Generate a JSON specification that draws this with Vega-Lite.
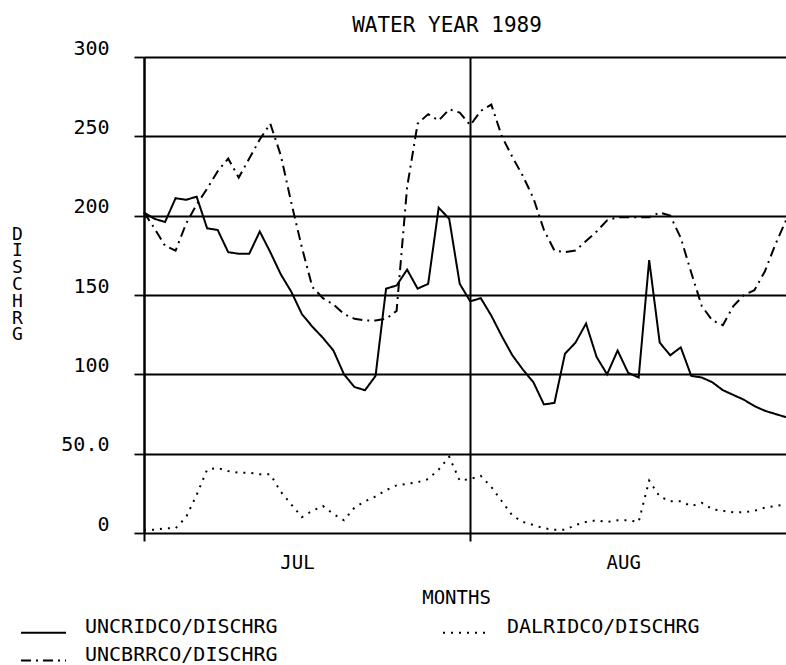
{
  "$schema": "https://vega.github.io/schema/vega-lite/v6.json",
  "autosize": {"type": "none"},
  "padding": {"left": 144, "top": 57, "right": 0, "bottom": 132},
  "width": 642,
  "height": 476,
  "background": "white",
  "title": {
    "text": "WATER YEAR 1989",
    "font": "DejaVu Sans Mono",
    "fontSize": 21,
    "fontWeight": "normal",
    "color": "black",
    "anchor": "middle",
    "dx": -18,
    "baseline": "alphabetic",
    "offset": -15
  },
  "data": {
    "values": [
      {"date": "1989-07-01", "series": "UNCRIDCO/DISCHRG", "value": 202},
      {"date": "1989-07-02", "series": "UNCRIDCO/DISCHRG", "value": 198},
      {"date": "1989-07-03", "series": "UNCRIDCO/DISCHRG", "value": 196},
      {"date": "1989-07-04", "series": "UNCRIDCO/DISCHRG", "value": 211},
      {"date": "1989-07-05", "series": "UNCRIDCO/DISCHRG", "value": 210},
      {"date": "1989-07-06", "series": "UNCRIDCO/DISCHRG", "value": 212},
      {"date": "1989-07-07", "series": "UNCRIDCO/DISCHRG", "value": 192},
      {"date": "1989-07-08", "series": "UNCRIDCO/DISCHRG", "value": 191},
      {"date": "1989-07-09", "series": "UNCRIDCO/DISCHRG", "value": 177},
      {"date": "1989-07-10", "series": "UNCRIDCO/DISCHRG", "value": 176},
      {"date": "1989-07-11", "series": "UNCRIDCO/DISCHRG", "value": 176},
      {"date": "1989-07-12", "series": "UNCRIDCO/DISCHRG", "value": 190},
      {"date": "1989-07-13", "series": "UNCRIDCO/DISCHRG", "value": 177},
      {"date": "1989-07-14", "series": "UNCRIDCO/DISCHRG", "value": 163},
      {"date": "1989-07-15", "series": "UNCRIDCO/DISCHRG", "value": 152},
      {"date": "1989-07-16", "series": "UNCRIDCO/DISCHRG", "value": 138},
      {"date": "1989-07-17", "series": "UNCRIDCO/DISCHRG", "value": 130},
      {"date": "1989-07-18", "series": "UNCRIDCO/DISCHRG", "value": 123},
      {"date": "1989-07-19", "series": "UNCRIDCO/DISCHRG", "value": 115},
      {"date": "1989-07-20", "series": "UNCRIDCO/DISCHRG", "value": 100},
      {"date": "1989-07-21", "series": "UNCRIDCO/DISCHRG", "value": 92},
      {"date": "1989-07-22", "series": "UNCRIDCO/DISCHRG", "value": 90},
      {"date": "1989-07-23", "series": "UNCRIDCO/DISCHRG", "value": 99},
      {"date": "1989-07-24", "series": "UNCRIDCO/DISCHRG", "value": 154},
      {"date": "1989-07-25", "series": "UNCRIDCO/DISCHRG", "value": 156},
      {"date": "1989-07-26", "series": "UNCRIDCO/DISCHRG", "value": 166},
      {"date": "1989-07-27", "series": "UNCRIDCO/DISCHRG", "value": 154},
      {"date": "1989-07-28", "series": "UNCRIDCO/DISCHRG", "value": 157},
      {"date": "1989-07-29", "series": "UNCRIDCO/DISCHRG", "value": 205},
      {"date": "1989-07-30", "series": "UNCRIDCO/DISCHRG", "value": 198},
      {"date": "1989-07-31", "series": "UNCRIDCO/DISCHRG", "value": 157},
      {"date": "1989-08-01", "series": "UNCRIDCO/DISCHRG", "value": 146},
      {"date": "1989-08-02", "series": "UNCRIDCO/DISCHRG", "value": 148},
      {"date": "1989-08-03", "series": "UNCRIDCO/DISCHRG", "value": 137},
      {"date": "1989-08-04", "series": "UNCRIDCO/DISCHRG", "value": 124},
      {"date": "1989-08-05", "series": "UNCRIDCO/DISCHRG", "value": 112},
      {"date": "1989-08-06", "series": "UNCRIDCO/DISCHRG", "value": 103},
      {"date": "1989-08-07", "series": "UNCRIDCO/DISCHRG", "value": 95},
      {"date": "1989-08-08", "series": "UNCRIDCO/DISCHRG", "value": 81},
      {"date": "1989-08-09", "series": "UNCRIDCO/DISCHRG", "value": 82},
      {"date": "1989-08-10", "series": "UNCRIDCO/DISCHRG", "value": 113},
      {"date": "1989-08-11", "series": "UNCRIDCO/DISCHRG", "value": 120},
      {"date": "1989-08-12", "series": "UNCRIDCO/DISCHRG", "value": 132},
      {"date": "1989-08-13", "series": "UNCRIDCO/DISCHRG", "value": 111},
      {"date": "1989-08-14", "series": "UNCRIDCO/DISCHRG", "value": 100},
      {"date": "1989-08-15", "series": "UNCRIDCO/DISCHRG", "value": 115},
      {"date": "1989-08-16", "series": "UNCRIDCO/DISCHRG", "value": 101},
      {"date": "1989-08-17", "series": "UNCRIDCO/DISCHRG", "value": 98},
      {"date": "1989-08-18", "series": "UNCRIDCO/DISCHRG", "value": 172},
      {"date": "1989-08-19", "series": "UNCRIDCO/DISCHRG", "value": 120},
      {"date": "1989-08-20", "series": "UNCRIDCO/DISCHRG", "value": 112},
      {"date": "1989-08-21", "series": "UNCRIDCO/DISCHRG", "value": 117},
      {"date": "1989-08-22", "series": "UNCRIDCO/DISCHRG", "value": 99},
      {"date": "1989-08-23", "series": "UNCRIDCO/DISCHRG", "value": 98},
      {"date": "1989-08-24", "series": "UNCRIDCO/DISCHRG", "value": 95},
      {"date": "1989-08-25", "series": "UNCRIDCO/DISCHRG", "value": 90},
      {"date": "1989-08-26", "series": "UNCRIDCO/DISCHRG", "value": 87},
      {"date": "1989-08-27", "series": "UNCRIDCO/DISCHRG", "value": 84},
      {"date": "1989-08-28", "series": "UNCRIDCO/DISCHRG", "value": 80},
      {"date": "1989-08-29", "series": "UNCRIDCO/DISCHRG", "value": 77},
      {"date": "1989-08-30", "series": "UNCRIDCO/DISCHRG", "value": 75},
      {"date": "1989-08-31", "series": "UNCRIDCO/DISCHRG", "value": 73},

      {"date": "1989-07-01", "series": "UNCBRRCO/DISCHRG", "value": 202},
      {"date": "1989-07-02", "series": "UNCBRRCO/DISCHRG", "value": 192},
      {"date": "1989-07-03", "series": "UNCBRRCO/DISCHRG", "value": 181},
      {"date": "1989-07-04", "series": "UNCBRRCO/DISCHRG", "value": 178},
      {"date": "1989-07-05", "series": "UNCBRRCO/DISCHRG", "value": 195},
      {"date": "1989-07-06", "series": "UNCBRRCO/DISCHRG", "value": 207},
      {"date": "1989-07-07", "series": "UNCBRRCO/DISCHRG", "value": 217},
      {"date": "1989-07-08", "series": "UNCBRRCO/DISCHRG", "value": 228},
      {"date": "1989-07-09", "series": "UNCBRRCO/DISCHRG", "value": 236},
      {"date": "1989-07-10", "series": "UNCBRRCO/DISCHRG", "value": 224},
      {"date": "1989-07-11", "series": "UNCBRRCO/DISCHRG", "value": 236},
      {"date": "1989-07-12", "series": "UNCBRRCO/DISCHRG", "value": 248},
      {"date": "1989-07-13", "series": "UNCBRRCO/DISCHRG", "value": 258},
      {"date": "1989-07-14", "series": "UNCBRRCO/DISCHRG", "value": 238},
      {"date": "1989-07-15", "series": "UNCBRRCO/DISCHRG", "value": 208},
      {"date": "1989-07-16", "series": "UNCBRRCO/DISCHRG", "value": 180},
      {"date": "1989-07-17", "series": "UNCBRRCO/DISCHRG", "value": 155},
      {"date": "1989-07-18", "series": "UNCBRRCO/DISCHRG", "value": 148},
      {"date": "1989-07-19", "series": "UNCBRRCO/DISCHRG", "value": 144},
      {"date": "1989-07-20", "series": "UNCBRRCO/DISCHRG", "value": 138},
      {"date": "1989-07-21", "series": "UNCBRRCO/DISCHRG", "value": 135},
      {"date": "1989-07-22", "series": "UNCBRRCO/DISCHRG", "value": 134},
      {"date": "1989-07-23", "series": "UNCBRRCO/DISCHRG", "value": 134},
      {"date": "1989-07-24", "series": "UNCBRRCO/DISCHRG", "value": 135},
      {"date": "1989-07-25", "series": "UNCBRRCO/DISCHRG", "value": 140},
      {"date": "1989-07-26", "series": "UNCBRRCO/DISCHRG", "value": 218},
      {"date": "1989-07-27", "series": "UNCBRRCO/DISCHRG", "value": 258},
      {"date": "1989-07-28", "series": "UNCBRRCO/DISCHRG", "value": 264},
      {"date": "1989-07-29", "series": "UNCBRRCO/DISCHRG", "value": 260},
      {"date": "1989-07-30", "series": "UNCBRRCO/DISCHRG", "value": 267},
      {"date": "1989-07-31", "series": "UNCBRRCO/DISCHRG", "value": 265},
      {"date": "1989-08-01", "series": "UNCBRRCO/DISCHRG", "value": 257},
      {"date": "1989-08-02", "series": "UNCBRRCO/DISCHRG", "value": 266},
      {"date": "1989-08-03", "series": "UNCBRRCO/DISCHRG", "value": 270},
      {"date": "1989-08-04", "series": "UNCBRRCO/DISCHRG", "value": 250},
      {"date": "1989-08-05", "series": "UNCBRRCO/DISCHRG", "value": 237},
      {"date": "1989-08-06", "series": "UNCBRRCO/DISCHRG", "value": 225},
      {"date": "1989-08-07", "series": "UNCBRRCO/DISCHRG", "value": 211},
      {"date": "1989-08-08", "series": "UNCBRRCO/DISCHRG", "value": 191},
      {"date": "1989-08-09", "series": "UNCBRRCO/DISCHRG", "value": 178},
      {"date": "1989-08-10", "series": "UNCBRRCO/DISCHRG", "value": 177},
      {"date": "1989-08-11", "series": "UNCBRRCO/DISCHRG", "value": 178},
      {"date": "1989-08-12", "series": "UNCBRRCO/DISCHRG", "value": 184},
      {"date": "1989-08-13", "series": "UNCBRRCO/DISCHRG", "value": 190},
      {"date": "1989-08-14", "series": "UNCBRRCO/DISCHRG", "value": 197},
      {"date": "1989-08-15", "series": "UNCBRRCO/DISCHRG", "value": 199},
      {"date": "1989-08-16", "series": "UNCBRRCO/DISCHRG", "value": 199},
      {"date": "1989-08-17", "series": "UNCBRRCO/DISCHRG", "value": 199},
      {"date": "1989-08-18", "series": "UNCBRRCO/DISCHRG", "value": 199},
      {"date": "1989-08-19", "series": "UNCBRRCO/DISCHRG", "value": 202},
      {"date": "1989-08-20", "series": "UNCBRRCO/DISCHRG", "value": 200},
      {"date": "1989-08-21", "series": "UNCBRRCO/DISCHRG", "value": 186},
      {"date": "1989-08-22", "series": "UNCBRRCO/DISCHRG", "value": 164},
      {"date": "1989-08-23", "series": "UNCBRRCO/DISCHRG", "value": 143},
      {"date": "1989-08-24", "series": "UNCBRRCO/DISCHRG", "value": 134},
      {"date": "1989-08-25", "series": "UNCBRRCO/DISCHRG", "value": 131},
      {"date": "1989-08-26", "series": "UNCBRRCO/DISCHRG", "value": 143},
      {"date": "1989-08-27", "series": "UNCBRRCO/DISCHRG", "value": 150},
      {"date": "1989-08-28", "series": "UNCBRRCO/DISCHRG", "value": 153},
      {"date": "1989-08-29", "series": "UNCBRRCO/DISCHRG", "value": 165},
      {"date": "1989-08-30", "series": "UNCBRRCO/DISCHRG", "value": 182},
      {"date": "1989-08-31", "series": "UNCBRRCO/DISCHRG", "value": 197},

      {"date": "1989-07-01", "series": "DALRIDCO/DISCHRG", "value": 2},
      {"date": "1989-07-02", "series": "DALRIDCO/DISCHRG", "value": 2},
      {"date": "1989-07-03", "series": "DALRIDCO/DISCHRG", "value": 3},
      {"date": "1989-07-04", "series": "DALRIDCO/DISCHRG", "value": 3},
      {"date": "1989-07-05", "series": "DALRIDCO/DISCHRG", "value": 10},
      {"date": "1989-07-06", "series": "DALRIDCO/DISCHRG", "value": 24},
      {"date": "1989-07-07", "series": "DALRIDCO/DISCHRG", "value": 40},
      {"date": "1989-07-08", "series": "DALRIDCO/DISCHRG", "value": 41},
      {"date": "1989-07-09", "series": "DALRIDCO/DISCHRG", "value": 39},
      {"date": "1989-07-10", "series": "DALRIDCO/DISCHRG", "value": 38},
      {"date": "1989-07-11", "series": "DALRIDCO/DISCHRG", "value": 38},
      {"date": "1989-07-12", "series": "DALRIDCO/DISCHRG", "value": 37},
      {"date": "1989-07-13", "series": "DALRIDCO/DISCHRG", "value": 37},
      {"date": "1989-07-14", "series": "DALRIDCO/DISCHRG", "value": 26},
      {"date": "1989-07-15", "series": "DALRIDCO/DISCHRG", "value": 18},
      {"date": "1989-07-16", "series": "DALRIDCO/DISCHRG", "value": 10},
      {"date": "1989-07-17", "series": "DALRIDCO/DISCHRG", "value": 14},
      {"date": "1989-07-18", "series": "DALRIDCO/DISCHRG", "value": 17},
      {"date": "1989-07-19", "series": "DALRIDCO/DISCHRG", "value": 12},
      {"date": "1989-07-20", "series": "DALRIDCO/DISCHRG", "value": 8},
      {"date": "1989-07-21", "series": "DALRIDCO/DISCHRG", "value": 16},
      {"date": "1989-07-22", "series": "DALRIDCO/DISCHRG", "value": 20},
      {"date": "1989-07-23", "series": "DALRIDCO/DISCHRG", "value": 23},
      {"date": "1989-07-24", "series": "DALRIDCO/DISCHRG", "value": 27},
      {"date": "1989-07-25", "series": "DALRIDCO/DISCHRG", "value": 30},
      {"date": "1989-07-26", "series": "DALRIDCO/DISCHRG", "value": 31},
      {"date": "1989-07-27", "series": "DALRIDCO/DISCHRG", "value": 32},
      {"date": "1989-07-28", "series": "DALRIDCO/DISCHRG", "value": 34},
      {"date": "1989-07-29", "series": "DALRIDCO/DISCHRG", "value": 40},
      {"date": "1989-07-30", "series": "DALRIDCO/DISCHRG", "value": 48},
      {"date": "1989-07-31", "series": "DALRIDCO/DISCHRG", "value": 33},
      {"date": "1989-08-01", "series": "DALRIDCO/DISCHRG", "value": 34},
      {"date": "1989-08-02", "series": "DALRIDCO/DISCHRG", "value": 36},
      {"date": "1989-08-03", "series": "DALRIDCO/DISCHRG", "value": 29},
      {"date": "1989-08-04", "series": "DALRIDCO/DISCHRG", "value": 20},
      {"date": "1989-08-05", "series": "DALRIDCO/DISCHRG", "value": 11},
      {"date": "1989-08-06", "series": "DALRIDCO/DISCHRG", "value": 7},
      {"date": "1989-08-07", "series": "DALRIDCO/DISCHRG", "value": 5},
      {"date": "1989-08-08", "series": "DALRIDCO/DISCHRG", "value": 3},
      {"date": "1989-08-09", "series": "DALRIDCO/DISCHRG", "value": 2},
      {"date": "1989-08-10", "series": "DALRIDCO/DISCHRG", "value": 2},
      {"date": "1989-08-11", "series": "DALRIDCO/DISCHRG", "value": 5},
      {"date": "1989-08-12", "series": "DALRIDCO/DISCHRG", "value": 7},
      {"date": "1989-08-13", "series": "DALRIDCO/DISCHRG", "value": 8},
      {"date": "1989-08-14", "series": "DALRIDCO/DISCHRG", "value": 7},
      {"date": "1989-08-15", "series": "DALRIDCO/DISCHRG", "value": 8},
      {"date": "1989-08-16", "series": "DALRIDCO/DISCHRG", "value": 8},
      {"date": "1989-08-17", "series": "DALRIDCO/DISCHRG", "value": 7},
      {"date": "1989-08-18", "series": "DALRIDCO/DISCHRG", "value": 33},
      {"date": "1989-08-19", "series": "DALRIDCO/DISCHRG", "value": 23},
      {"date": "1989-08-20", "series": "DALRIDCO/DISCHRG", "value": 20},
      {"date": "1989-08-21", "series": "DALRIDCO/DISCHRG", "value": 20},
      {"date": "1989-08-22", "series": "DALRIDCO/DISCHRG", "value": 17},
      {"date": "1989-08-23", "series": "DALRIDCO/DISCHRG", "value": 19},
      {"date": "1989-08-24", "series": "DALRIDCO/DISCHRG", "value": 15},
      {"date": "1989-08-25", "series": "DALRIDCO/DISCHRG", "value": 14},
      {"date": "1989-08-26", "series": "DALRIDCO/DISCHRG", "value": 13},
      {"date": "1989-08-27", "series": "DALRIDCO/DISCHRG", "value": 13},
      {"date": "1989-08-28", "series": "DALRIDCO/DISCHRG", "value": 14},
      {"date": "1989-08-29", "series": "DALRIDCO/DISCHRG", "value": 16},
      {"date": "1989-08-30", "series": "DALRIDCO/DISCHRG", "value": 17},
      {"date": "1989-08-31", "series": "DALRIDCO/DISCHRG", "value": 18}
    ]
  },
  "mark": {"type": "line", "color": "black", "strokeWidth": 2, "strokeCap": "butt"},
  "encoding": {
    "x": {
      "field": "date",
      "type": "temporal",
      "scale": {
        "type": "utc",
        "domain": [
          {"year": 1989, "month": 7, "date": 1, "utc": true},
          {"year": 1989, "month": 8, "date": 31, "utc": true}
        ]
      },
      "axis": {
        "values": [
          {"year": 1989, "month": 7, "date": 1, "utc": true},
          {"year": 1989, "month": 8, "date": 1, "utc": true}
        ],
        "labelExpr": "upper(utcFormat(datum.value, '%b'))",
        "labelOffset": 153,
        "labelFlush": false,
        "labelOverlap": false,
        "labelBound": false,
        "labelFont": "DejaVu Sans Mono",
        "labelFontSize": 19,
        "labelColor": "black",
        "labelBaseline": "middle",
        "labelPadding": 21,
        "domain": false,
        "grid": true,
        "gridColor": "black",
        "gridWidth": 2,
        "gridOpacity": 1,
        "ticks": true,
        "tickSize": 8,
        "tickColor": "black",
        "tickWidth": 2,
        "title": "MONTHS",
        "titleFont": "DejaVu Sans Mono",
        "titleFontSize": 19,
        "titleFontWeight": "normal",
        "titleColor": "black",
        "titleX": 312,
        "titleY": 64,
        "titleAlign": "center",
        "titleBaseline": "middle"
      }
    },
    "y": {
      "field": "value",
      "type": "quantitative",
      "scale": {"domain": [0, 300], "nice": false, "zero": true},
      "axis": {
        "values": [0, 50, 100, 150, 200, 250, 300],
        "labelExpr": "datum.value == 50 ? '50.0' : datum.label",
        "labelFont": "DejaVu Sans Mono",
        "labelFontSize": 20,
        "labelColor": "black",
        "labelPadding": 25,
        "labelOffset": -9,
        "grid": true,
        "gridColor": "black",
        "gridWidth": 1.8,
        "gridOpacity": 1,
        "tickSize": 10,
        "tickColor": "black",
        "tickWidth": 1.8,
        "domain": true,
        "domainColor": "black",
        "domainWidth": 2,
        "title": ["D", "I", "S", "C", "H", "R", "G"],
        "titleAngle": 0,
        "titleX": -127,
        "titleY": 168,
        "titleAlign": "center",
        "titleBaseline": "top",
        "titleLineHeight": 16.8,
        "titleFont": "DejaVu Sans Mono",
        "titleFontSize": 18,
        "titleFontWeight": "normal",
        "titleColor": "black"
      }
    },
    "strokeDash": {
      "field": "series",
      "type": "nominal",
      "scale": {
        "domain": ["UNCRIDCO/DISCHRG", "DALRIDCO/DISCHRG", "UNCBRRCO/DISCHRG"],
        "range": [[1, 0], [2, 6], [10, 5, 2, 5]]
      },
      "legend": {
        "orient": "none",
        "direction": "horizontal",
        "legendX": -124,
        "legendY": 552,
        "columns": 2,
        "columnPadding": 161,
        "rowPadding": 0,
        "padding": 0,
        "title": null,
        "symbolType": "stroke",
        "symbolSize": 2025,
        "symbolStrokeWidth": 2,
        "symbolStrokeColor": "black",
        "labelFont": "DejaVu Sans Mono",
        "labelFontSize": 20,
        "labelColor": "black",
        "labelBaseline": "alphabetic",
        "labelOffset": 18,
        "labelLimit": 400
      }
    }
  },
  "config": {
    "view": {"stroke": null}
  }
}
